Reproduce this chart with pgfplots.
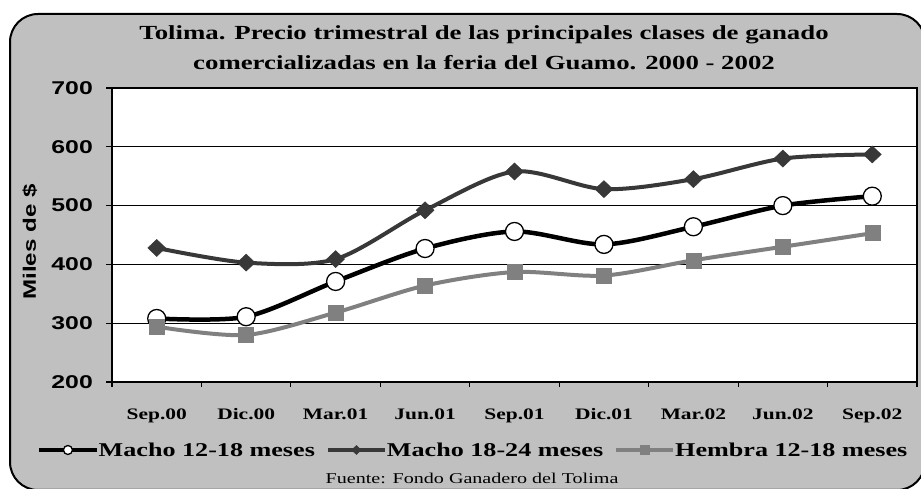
\documentclass[border=0pt]{standalone}
\usepackage{pgfplots}
\pgfplotsset{compat=1.18}
\usepackage{fontspec}
\newfontfamily\tnr[FakeStretch=1.34]{Liberation Serif}
\newfontfamily\ari[FakeStretch=1.34]{Liberation Sans}
\definecolor{bgray}{HTML}{C0C0C0}
\definecolor{dgray}{HTML}{383838}
\definecolor{mgray}{HTML}{808080}
\begin{document}
\begin{tikzpicture}[x=1bp,y=1bp]
\path[use as bounding box] (0,0) rectangle (921,489);
\draw[fill=bgray, line width=2bp, rounded corners=28bp] (10,-1) rectangle (925,475);
\node[anchor=base, font=\tnr\bfseries\fontsize{20bp}{24bp}\selectfont] at (484,449) {Tolima. Precio trimestral de las principales clases de ganado};
\node[anchor=base, font=\tnr\bfseries\fontsize{20bp}{24bp}\selectfont] at (484,419) {comercializadas en la feria del Guamo. 2000 - 2002};
\node[anchor=base, font=\tnr\fontsize{15bp}{17bp}\selectfont] at (472,5) {Fuente: Fondo Ganadero del Tolima};
\begin{axis}[
  at={(112bp,107bp)}, anchor=south west,
  width=805bp, height=294bp, scale only axis,
  xmin=-0.5, xmax=8.5, ymin=200, ymax=700,
  xtick={0,...,8},
  xticklabels={Sep.00,Dic.00,Mar.01,Jun.01,Sep.01,Dic.01,Mar.02,Jun.02,Sep.02},
  minor xtick={-0.5,0.5,...,8.5},
  ytick={200,300,...,700},
  xtick pos=bottom, ytick pos=left,
  tick align=outside,
  major tick length=6bp, minor tick length=5bp,
  major x tick style={draw=none},
  tick style={black, line width=1.2bp},
  ymajorgrids, major grid style={black, line width=1bp},
  axis line style={black, line width=1.5bp},
  axis background/.style={fill=white},
  /pgf/number format/assume math mode=true,
  xticklabel style={font=\tnr\bfseries\fontsize{16bp}{18bp}\selectfont, anchor=base, yshift=-32bp},
  yticklabel style={font=\ari\bfseries\fontsize{18.5bp}{20bp}\selectfont, anchor=east, inner sep=0pt, xshift=-13bp},
  ylabel={Miles de \$},
  ylabel style={font=\ari\bfseries\fontsize{18bp}{20bp}\selectfont, at={(axis description cs:-0.1019,0.476)}, anchor=center},
  legend columns=3,
  legend style={at={(axis description cs:-0.0932,-0.2313)}, anchor=west, draw=none, fill=none,
    font=\tnr\bfseries\fontsize{19.5bp}{22bp}\selectfont, inner sep=0pt,
    nodes={inner sep=0pt},
    /tikz/every odd column/.append style={column sep=0bp},
    /tikz/every even column/.append style={column sep=11bp}},
  legend image code/.code={\draw[mark repeat=2,mark phase=2,#1,mark size=4.5bp] plot coordinates {(0bp,0bp) (28.5bp,0bp) (57bp,0bp)};},
]
\addplot[black, line width=4.5bp, smooth, tension=0.5, mark=*, mark size=9bp,
  mark options={fill=white, draw=black, line width=1.3bp, solid}]
  coordinates {(0,308) (1,311) (2,371) (3,427) (4,456) (5,434) (6,464) (7,500) (8,516)};
\addlegendentry{Macho 12-18 meses}
\addplot[dgray, line width=4bp, smooth, tension=0.5, mark=diamond*, mark size=8.5bp,
  mark options={fill=dgray, draw=dgray, line width=0.5bp, xscale=1.4, solid}]
  coordinates {(0,428) (1,403) (2,409) (3,492) (4,558) (5,528) (6,545) (7,580) (8,587)};
\addlegendentry{Macho 18-24 meses}
\addplot[mgray, line width=4bp, smooth, tension=0.5, mark=square*, mark size=7.5bp,
  mark options={fill=mgray, draw=mgray, line width=0.5bp, solid}]
  coordinates {(0,294) (1,280) (2,318) (3,364) (4,387) (5,381) (6,407) (7,430) (8,453)};
\addlegendentry{Hembra 12-18 meses}
\end{axis}
\end{tikzpicture}
\end{document}
